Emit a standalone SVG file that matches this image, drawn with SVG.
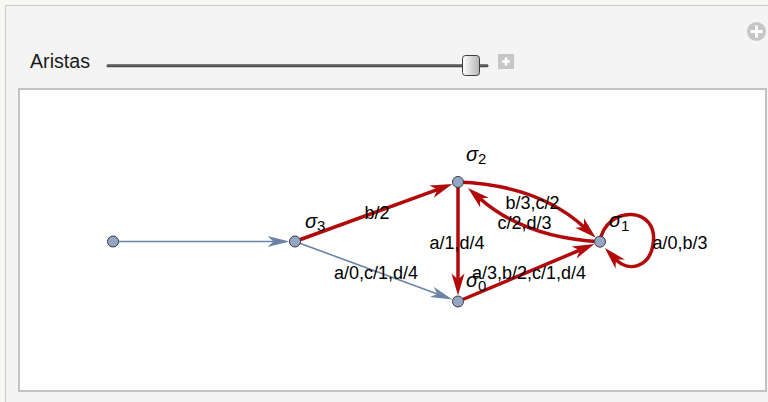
<svg xmlns="http://www.w3.org/2000/svg" width="768" height="402" viewBox="0 0 768 402">
<style>
.lbl{font-family:"Liberation Sans",Arial,sans-serif;font-size:18px;fill:#000;text-anchor:middle}
.sig{font-family:"Liberation Sans",Arial,sans-serif;font-size:20px;font-style:italic;fill:#000}
.sub{font-style:normal;font-size:15px}
.red{fill:none;stroke:#b20a0a;stroke-width:3.5}
.blue{fill:none;stroke:#6a83a6;stroke-width:1.6}
.node{fill:#94a6c4;stroke:#3a3a3a;stroke-width:1}
</style>
<defs>
<marker id="ar" markerUnits="userSpaceOnUse" markerWidth="30" markerHeight="20" viewBox="-8 -10 30 20" refX="0" refY="0" orient="auto">
<path d="M16,0 L-6,-6.5 L0,0 L-6,6.5 Z" fill="#b20a0a"/>
</marker>
<marker id="ab" markerUnits="userSpaceOnUse" markerWidth="30" markerHeight="20" viewBox="-8 -10 30 20" refX="0" refY="0" orient="auto">
<path d="M16,0 L-6,-5.5 L0,0 L-6,5.5 Z" fill="#6a83a6"/>
</marker>
<linearGradient id="thumb" x1="0" y1="0" x2="1" y2="0">
<stop offset="0" stop-color="#ffffff"/>
<stop offset="1" stop-color="#b4b4b4"/>
</linearGradient>
</defs>
<rect x="0" y="0" width="768" height="402" fill="#f7f7f4"/>
<rect x="5.5" y="5.5" width="790" height="420" fill="#f4f4f4" stroke="#c9c9c9" stroke-width="1"/>
<g id="controls">
<text x="30" y="68" font-family="'Liberation Sans',Arial,sans-serif" font-size="20" fill="#1a1a1a" textLength="60" lengthAdjust="spacingAndGlyphs">Aristas</text>
<line x1="108" y1="65.8" x2="487" y2="65.8" stroke="#4a4a4a" stroke-width="3" stroke-linecap="round"/>
<line x1="108" y1="65" x2="487" y2="65" stroke="#7a7a7a" stroke-width="1"/>
<rect x="462.5" y="55.5" width="17" height="20" rx="3" fill="url(#thumb)" stroke="#3c3c3c" stroke-width="1"/>
<rect x="498" y="54" width="16" height="15" fill="#c7c7c7"/>
<path d="M506,57.5 V65.5 M502,61.5 H510" stroke="#fff" stroke-width="2.5"/>
<circle cx="756.5" cy="31.5" r="9.5" fill="#c6c6c6"/>
<path d="M756.5,25.5 V37.5 M750.5,31.5 H762.5" stroke="#fff" stroke-width="3"/>
</g>
<rect x="19" y="89" width="747" height="302" fill="#ffffff" stroke="#c3c3c3" stroke-width="2"/>
<g id="connectors">
<line class="blue" x1="113" y1="241.5" x2="273.5" y2="241.5" marker-end="url(#ab)"/>
<line class="blue" x1="295" y1="241.5" x2="437.4" y2="293.9" marker-end="url(#ab)"/>
<line class="red" x1="295" y1="241.5" x2="437.3" y2="189.6" marker-end="url(#ar)"/>
<line class="red" x1="458" y1="182" x2="458" y2="279.5" marker-end="url(#ar)"/>
<line class="red" x1="458" y1="301.5" x2="579.7" y2="250.2" marker-end="url(#ar)"/>
<path class="red" d="M458,182 Q538,185 584,227" marker-end="url(#ar)"/>
<path class="red" d="M600,241.7 Q525,238 480,198.6" marker-end="url(#ar)"/>
<path class="red" d="M600,241.7 C605,205 660,205 653,245 C649,268 628,272 616,259.6" marker-end="url(#ar)"/>
</g>
<g id="edge-labels">
<text class="lbl" x="377" y="219">b/2</text>
<text class="lbl" x="376" y="279">a/0,c/1,d/4</text>
<text class="lbl" x="457" y="249">a/1,d/4</text>
<text class="lbl" x="529" y="279">a/3,b/2,c/1,d/4</text>
<text class="lbl" x="532.5" y="209">b/3,c/2</text>
<text class="lbl" x="524.5" y="229">c/2,d/3</text>
<text class="lbl" x="680" y="249">a/0,b/3</text>
</g>
<g id="n-start"><circle class="node" cx="113" cy="241.5" r="5.5"/></g>
<g id="n-s3"><circle class="node" cx="295" cy="241.5" r="5.5"/><text class="sig" x="305" y="228">σ<tspan class="sub" dy="3">3</tspan></text></g>
<g id="n-s2"><circle class="node" cx="458" cy="182" r="5.5"/><text class="sig" x="466" y="161">σ<tspan class="sub" dy="3">2</tspan></text></g>
<g id="n-s0"><circle class="node" cx="458" cy="301.5" r="5.5"/><text class="sig" x="466" y="287">σ<tspan class="sub" dy="4">0</tspan></text></g>
<g id="n-s1"><circle class="node" cx="600" cy="241.7" r="5.5"/><text class="sig" x="609" y="227">σ<tspan class="sub" dy="4">1</tspan></text></g>
</svg>
